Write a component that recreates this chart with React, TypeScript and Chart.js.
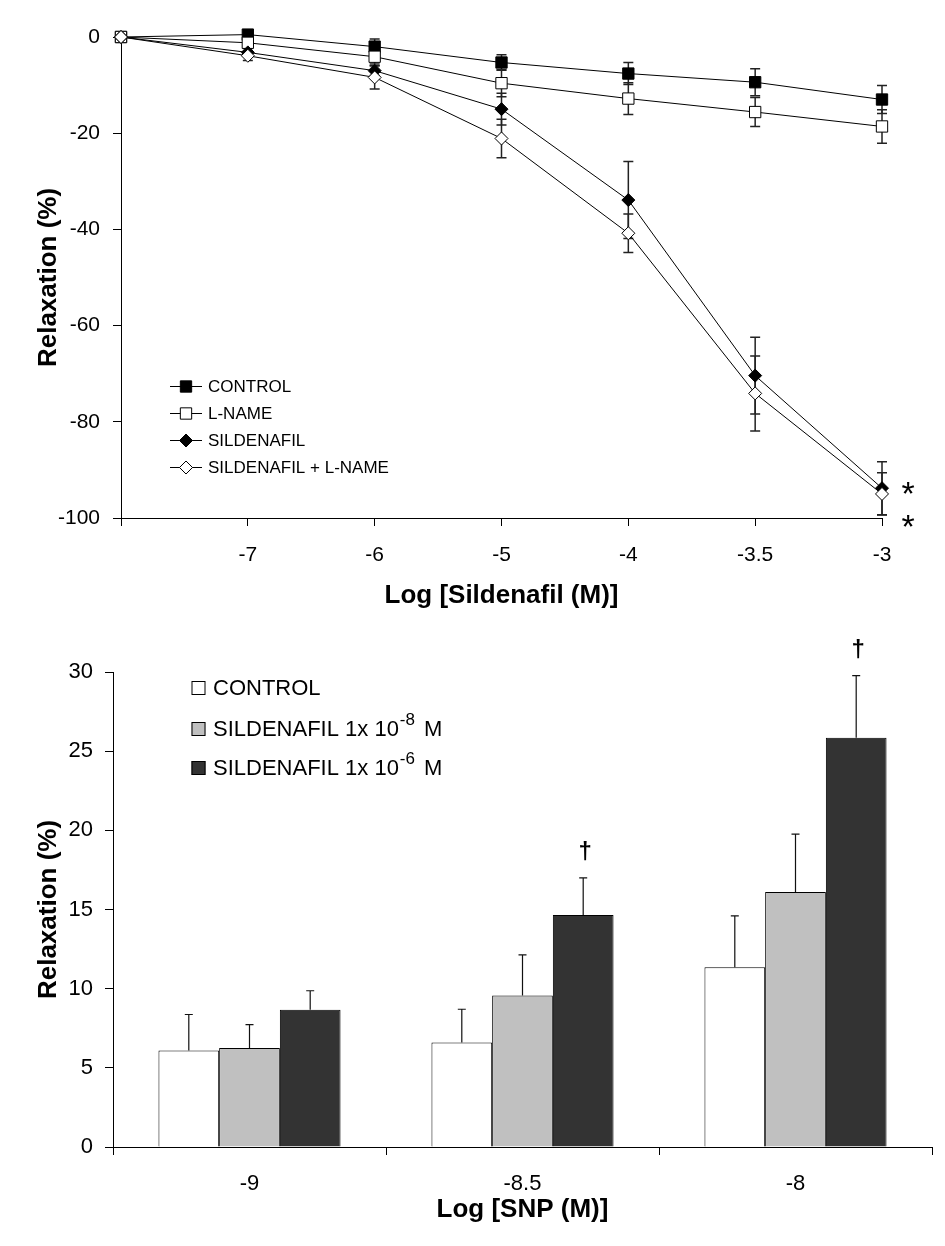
import React, { useEffect, useRef } from 'react';
import { Chart, registerables } from 'chart.js';

Chart.register(...registerables);

const FONT = "'Liberation Sans', Arial, Helvetica, sans-serif";

// ---------- Top chart data (line chart, mean ± SEM) ----------
const sildenafilLogLabels = ['', '-7', '-6', '-5', '-4', '-3.5', '-3'];
const seriesNames = ['CONTROL', 'L-NAME', 'SILDENAFIL', 'SILDENAFIL + L-NAME'];
const controlValues = [0, 0.5, -2.0, -5.3, -7.6, -9.4, -13.0];
const controlErrors = [0, 0.5, 1.6, 1.6, 2.3, 2.8, 2.9];
const lNameValues = [0, -1.2, -4.1, -9.6, -12.8, -15.6, -18.6];
const lNameErrors = [0, 0.5, 1.5, 2.8, 3.3, 3.0, 3.5];
const sildenafilValues = [0, -3.2, -7.0, -15.0, -33.9, -70.4, -93.8];
const sildenafilErrors = [0, 0.8, 1.0, 3.3, 8.0, 8.0, 5.5];
const sildLNameValues = [0, -3.9, -8.4, -21.1, -40.8, -74.1, -95.0];
const sildLNameErrors = [0, 1.0, 2.4, 4.0, 4.0, 7.8, 4.4];
const topYMin = -100;
const topYMax = 0;
const topYStep = 20;
const topXTitle = 'Log [Sildenafil (M)]';
const yTitle = 'Relaxation (%)';

// ---------- Bottom chart data (bar chart, mean + SEM) ----------
const snpLabels = ['-9', '-8.5', '-8'];
const barNames = ['CONTROL', 'SILDENAFIL 1x 10', 'SILDENAFIL 1x 10'];
const barSuperscripts = ['', '-8', '-6'];
const barControl = [6.1, 6.6, 11.35];
const barControlErr = [2.27, 2.1, 3.25];
const barSild8 = [6.25, 9.57, 16.1];
const barSild8Err = [1.48, 2.56, 3.66];
const barSild6 = [8.67, 14.65, 25.85];
const barSild6Err = [1.2, 2.35, 3.92];
const daggerFlags = [false, true, true];
const botYMin = 0;
const botYMax = 30;
const botYStep = 5;
const botXTitle = 'Log [SNP (M)]';

const lineErrorsBySeries = [controlErrors, lNameErrors, sildenafilErrors, sildLNameErrors];
const barValuesBySeries = [barControl, barSild8, barSild6];
const barErrorsBySeries = [barControlErr, barSild8Err, barSild6Err];
const barColors = ['#ffffff', '#c0c0c0', '#333333'];

type MarkerStyle = 'rect' | 'rectRot';
const markerStyles: MarkerStyle[] = ['rect', 'rect', 'rectRot', 'rectRot'];
const markerFills = ['#000000', '#ffffff', '#000000', '#ffffff'];
const markerRadius = [8, 8, 6.5, 6.5];

function drawMarker(ctx: CanvasRenderingContext2D, style: MarkerStyle, x: number, y: number, r: number, fill: string) {
  ctx.save();
  ctx.fillStyle = fill;
  ctx.strokeStyle = '#000';
  ctx.lineWidth = 1;
  ctx.beginPath();
  if (style === 'rect') {
    const s = r * Math.SQRT1_2;
    ctx.rect(x - s, y - s, 2 * s, 2 * s);
  } else {
    ctx.moveTo(x, y - r);
    ctx.lineTo(x + r, y);
    ctx.lineTo(x, y + r);
    ctx.lineTo(x - r, y);
    ctx.closePath();
  }
  ctx.fill();
  ctx.stroke();
  ctx.restore();
}

const lineErrorPlugin = {
  id: 'lineErrors',
  beforeDatasetsDraw(chart: any) {
    const ctx = chart.ctx as CanvasRenderingContext2D;
    const yScale = chart.scales.y;
    chart.data.datasets.forEach((ds: any, i: number) => {
      const meta = chart.getDatasetMeta(i);
      const errs = lineErrorsBySeries[i];
      meta.data.forEach((pt: any, j: number) => {
        const e = errs[j];
        if (!e) return;
        const v = ds.data[j];
        const yTop = yScale.getPixelForValue(v + e);
        const yBot = yScale.getPixelForValue(v - e);
        ctx.save();
        ctx.strokeStyle = '#222';
        ctx.lineWidth = 1.5;
        ctx.beginPath();
        ctx.moveTo(pt.x, yTop);
        ctx.lineTo(pt.x, yBot);
        ctx.moveTo(pt.x - 5, yTop);
        ctx.lineTo(pt.x + 5, yTop);
        ctx.moveTo(pt.x - 5, yBot);
        ctx.lineTo(pt.x + 5, yBot);
        ctx.stroke();
        ctx.restore();
      });
    });
  },
  afterDraw(chart: any) {
    const ctx = chart.ctx as CanvasRenderingContext2D;
    const area = chart.chartArea;
    const yScale = chart.scales.y;
    // legend
    const lx0 = area.left + 49;
    const lx1 = area.left + 81;
    const mx = area.left + 65;
    const tx = area.left + 87;
    seriesNames.forEach((name, i) => {
      const y = area.top + 349.5 + i * 27;
      ctx.save();
      ctx.strokeStyle = '#000';
      ctx.lineWidth = 1;
      ctx.beginPath();
      ctx.moveTo(lx0, y);
      ctx.lineTo(lx1, y);
      ctx.stroke();
      ctx.restore();
      drawMarker(ctx, markerStyles[i], mx, y, markerRadius[i], markerFills[i]);
      ctx.save();
      ctx.fillStyle = '#000';
      ctx.font = `17px ${FONT}`;
      ctx.textBaseline = 'middle';
      ctx.textAlign = 'left';
      ctx.fillText(name, tx, y + 1);
      ctx.restore();
    });
    // significance asterisks
    const last = sildenafilLogLabels.length - 1;
    const p = chart.getDatasetMeta(2).data[last];
    const ax = p.x + 26;
    const ys = [p.y, yScale.getPixelForValue(topYMin) + 3];
    ctx.save();
    ctx.fillStyle = '#000';
    ctx.font = `34px ${FONT}`;
    ctx.textAlign = 'center';
    ctx.textBaseline = 'alphabetic';
    ys.forEach((yy) => ctx.fillText('*', ax, yy + 17));
    ctx.restore();
  },
};

const barExtrasPlugin = {
  id: 'barExtras',
  afterDatasetsDraw(chart: any) {
    const ctx = chart.ctx as CanvasRenderingContext2D;
    const yScale = chart.scales.y;
    chart.data.datasets.forEach((ds: any, i: number) => {
      const meta = chart.getDatasetMeta(i);
      meta.data.forEach((bar: any, j: number) => {
        const v = barValuesBySeries[i][j];
        const e = barErrorsBySeries[i][j];
        const yTop = yScale.getPixelForValue(v + e);
        ctx.save();
        ctx.strokeStyle = '#111';
        ctx.lineWidth = 1.2;
        ctx.beginPath();
        ctx.moveTo(bar.x, bar.y);
        ctx.lineTo(bar.x, yTop);
        ctx.moveTo(bar.x - 4, yTop);
        ctx.lineTo(bar.x + 4, yTop);
        ctx.stroke();
        ctx.restore();
        if (i === 2 && daggerFlags[j]) {
          ctx.save();
          ctx.fillStyle = '#000';
          ctx.font = `bold 24px ${FONT}`;
          ctx.textAlign = 'center';
          ctx.textBaseline = 'alphabetic';
          ctx.fillText('\u2020', bar.x + 2, yTop - 26 + 7);
          ctx.restore();
        }
      });
    });
  },
  afterDraw(chart: any) {
    const ctx = chart.ctx as CanvasRenderingContext2D;
    const area = chart.chartArea;
    const sqX = area.left + 78.5;
    const tx = area.left + 100;
    const rowsY = [16, 57, 96];
    barNames.forEach((name, i) => {
      const y = area.top + rowsY[i];
      ctx.save();
      ctx.fillStyle = barColors[i];
      ctx.strokeStyle = '#000';
      ctx.lineWidth = 1;
      ctx.fillRect(sqX, y - 7, 14, 14);
      ctx.strokeRect(sqX + 0.5, y - 6.5, 13, 13);
      ctx.fillStyle = '#000';
      ctx.font = `22px ${FONT}`;
      ctx.textBaseline = 'middle';
      ctx.textAlign = 'left';
      ctx.fillText(name, tx, y + 1);
      if (barSuperscripts[i]) {
        let x = tx + ctx.measureText(name).width + 1;
        ctx.font = `17px ${FONT}`;
        ctx.fillText(barSuperscripts[i], x, y - 9);
        x += ctx.measureText(barSuperscripts[i]).width;
        ctx.font = `22px ${FONT}`;
        ctx.fillText(' M', x + 3, y + 1);
      }
      ctx.restore();
    });
  },
};

function axisCommon(fontSize: number, pad: number) {
  return {
    grid: { display: true, drawOnChartArea: false, drawTicks: true, tickLength: 8, color: '#000', lineWidth: 1 },
    border: { display: true, color: '#000', width: 1 },
    ticks: { color: '#000', font: { family: FONT, size: fontSize }, padding: pad },
  };
}

export default function App() {
  const topRef = useRef<HTMLCanvasElement | null>(null);
  const botRef = useRef<HTMLCanvasElement | null>(null);

  useEffect(() => {
    Chart.defaults.font.family = FONT;
    Chart.defaults.color = '#000';

    const lineValues = [controlValues, lNameValues, sildenafilValues, sildLNameValues];
    const top = new Chart(topRef.current as HTMLCanvasElement, {
      type: 'line',
      data: {
        labels: sildenafilLogLabels,
        datasets: seriesNames.map((name, i) => ({
          label: name,
          data: lineValues[i],
          borderColor: '#000',
          borderWidth: 1,
          backgroundColor: markerFills[i],
          pointStyle: markerStyles[i],
          pointRadius: markerRadius[i],
          pointBackgroundColor: markerFills[i],
          pointBorderColor: '#000',
          pointBorderWidth: 1,
          tension: 0,
          fill: false,
          clip: false,
          order: 3 - i,
        })),
      },
      options: {
        responsive: false,
        animation: false,
        events: [],
        layout: { padding: { left: 0, right: 63, top: 37, bottom: 0 } },
        plugins: { legend: { display: false }, tooltip: { enabled: false } },
        scales: {
          x: {
            type: 'category',
            offset: false,
            ...axisCommon(21, 17),
            grid: { display: true, drawOnChartArea: false, drawTicks: true, tickLength: 8, color: '#000', offset: false },
            title: { display: true, text: topXTitle, color: '#000', font: { family: FONT, size: 26, weight: 'bold' }, padding: { top: 0, bottom: 9 } },
            afterFit: (s: any) => { s.height = 102; },
          },
          y: {
            min: topYMin,
            max: topYMax,
            ...axisCommon(21, 13),
            ticks: { color: '#000', font: { family: FONT, size: 21 }, padding: 13, stepSize: topYStep },
            title: { display: true, text: yTitle, color: '#000', font: { family: FONT, size: 26, weight: 'bold' }, padding: { top: 33, bottom: 0 } },
            afterFit: (s: any) => { s.width = 121; },
          },
        },
      } as any,
      plugins: [lineErrorPlugin],
    });

    const bot = new Chart(botRef.current as HTMLCanvasElement, {
      type: 'bar',
      data: {
        labels: snpLabels,
        datasets: barValuesBySeries.map((vals, i) => ({
          label: barNames[i] + barSuperscripts[i],
          data: vals,
          backgroundColor: barColors[i],
          borderColor: '#000',
          borderWidth: 1,
          barPercentage: 1,
          categoryPercentage: 0.667,
        })),
      },
      options: {
        responsive: false,
        animation: false,
        events: [],
        layout: { padding: { left: 0, right: 13, top: 52, bottom: 0 } },
        plugins: { legend: { display: false }, tooltip: { enabled: false } },
        scales: {
          x: {
            type: 'category',
            ...axisCommon(22, 16),
            grid: { display: true, drawOnChartArea: false, drawTicks: true, tickLength: 8, color: '#000', offset: true },
            title: { display: true, text: botXTitle, color: '#000', font: { family: FONT, size: 26, weight: 'bold' }, padding: { top: 0, bottom: 21 } },
            afterFit: (s: any) => { s.height = 99; },
          },
          y: {
            min: botYMin,
            max: botYMax,
            ...axisCommon(22, 12),
            ticks: { color: '#000', font: { family: FONT, size: 22 }, padding: 12, stepSize: botYStep },
            title: { display: true, text: yTitle, color: '#000', font: { family: FONT, size: 26, weight: 'bold' }, padding: { top: 33, bottom: 0 } },
            afterFit: (s: any) => { s.width = 113; },
          },
        },
      } as any,
      plugins: [barExtrasPlugin],
    });

    return () => {
      top.destroy();
      bot.destroy();
    };
  }, []);

  return (
    <div style={{ position: 'absolute', left: 0, top: 0, width: 945, height: 1246, background: '#fff' }}>
      <canvas ref={topRef} width={945} height={620} style={{ position: 'absolute', left: 0, top: 0, width: 945, height: 620 }} />
      <canvas ref={botRef} width={945} height={626} style={{ position: 'absolute', left: 0, top: 620, width: 945, height: 626 }} />
    </div>
  );
}
